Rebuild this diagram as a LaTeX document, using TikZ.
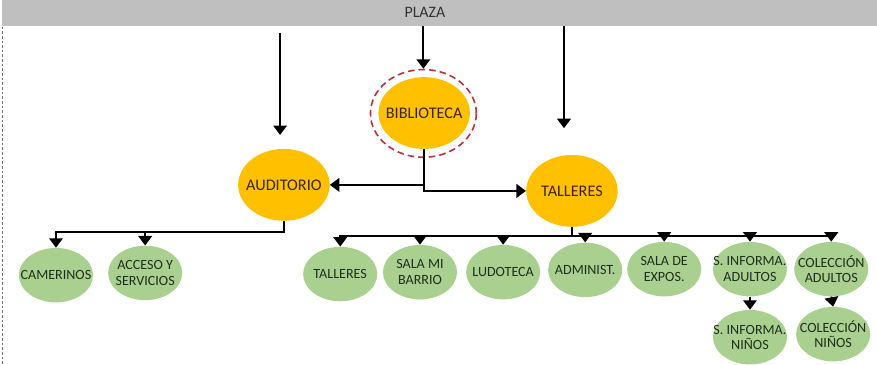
\documentclass[tikz,border=0pt]{standalone}
\usepackage{fontspec}
\setmainfont{Carlito}
\usepackage{xcolor}
\usepackage{tikz}
\usetikzlibrary{positioning,arrows.meta,shapes.geometric,calc}

\definecolor{plazagray}{HTML}{BFBFBF}
\definecolor{areaorange}{HTML}{FFC000}
\definecolor{roomgreen}{HTML}{A9D08E}
\definecolor{ringred}{HTML}{B5343C}
\definecolor{areatext}{HTML}{3E2414}
\definecolor{roomtext}{HTML}{1F2F1F}

\begin{document}
\begin{tikzpicture}[
  x=1cm, y=1cm,
  bar/.style  ={rectangle, fill=plazagray, inner sep=0pt,
                minimum width=23.15cm, minimum height=6.9mm},
  area/.style ={ellipse, fill=areaorange, inner ysep=0pt, inner xsep=-3.5mm,
                minimum width=24.2mm, minimum height=19mm,
                font=\fontsize{12.2}{14}\selectfont, text=areatext},
  room/.style ={ellipse, fill=roomgreen, inner ysep=0pt, inner xsep=-3.5mm,
                minimum width=19.6mm, minimum height=14.4mm, align=center,
                font=\fontsize{10.6}{11.6}\selectfont, text=roomtext},
  ring/.style ={ellipse, draw=ringred, line width=1.2pt,
                dash pattern=on 5pt off 3pt,
                minimum width=28mm, minimum height=23.2mm},
  e/.style    ={-{Triangle[length=2.5mm,width=3.6mm]}, line width=1.4pt, draw=black},
]
\useasboundingbox (0,0) rectangle (23.2,9.63);
% left edge of the sheet
\draw[black!55, line width=0.6pt, dash pattern=on 2pt off 1.5pt] (0.06,0) -- (0.06,9.63);

% ---------------- PLAZA (top bar) ----------------
\node[bar] (bar)   at (11.625,9.285) {};
\node[font=\fontsize{12}{14}\selectfont, text=black!80] (plaza) at (11.24,9.29) {PLAZA};

% ---------------- main areas ----------------
\node[ring] (ring) at (11.20,6.63) {};
\node[area] (bib)  at (11.22,6.64) {BIBLIOTECA};
\node[area] (aud)  at (7.51,4.74)  {AUDITORIO};
\node[area] (tall) at (15.13,4.58) {TALLERES};

% ---------------- rooms ----------------
\node[room] (cam) at (1.48,2.35)  {CAMERINOS};
\node[room] (acc) at (3.84,2.41)  {ACCESO Y\\SERVICIOS};
\node[room] (tg)  at (9.00,2.38)  {TALLERES};
\node[room] (smb) at (11.11,2.43) {SALA MI\\BARRIO};
\node[room] (lud) at (13.31,2.43) {LUDOTECA};
\node[room] (adm) at (15.48,2.49) {ADMINIST.};
\node[room] (sde) at (17.57,2.51) {SALA DE\\EXPOS.};
\node[room] (sia) at (19.84,2.51) {S. INFORMA.\\ADULTOS};
\node[room] (ca)  at (21.99,2.51) {COLECCIÓN\\ADULTOS};
\node[room] (sin) at (19.84,0.71) {S. INFORMA.\\NIÑOS};
\node[room] (cn)  at (22.04,0.79) {COLECCIÓN\\NIÑOS};

% ---------------- from the plaza ----------------
\coordinate (audtop) at (7.41,8.76);
\coordinate (audend) at (7.41,6.06);
\coordinate (tallend) at (14.92,6.24);
\draw[e] (audtop) -- (audend);
\draw[e] (ring.north |- bar.south) -- (ring.north);
\draw[e] (tallend |- bar.south) -- (tallend);

% ---------------- biblioteca to auditorio / talleres ----------------
\draw[e] (bib.south) |- (aud.east);
\draw[e] (bib.south) |- (tall.west);

% ---------------- auditorio rooms ----------------
\coordinate (abus) at ($(aud.south)+(0,-0.28)$);
\foreach \n in {cam,acc}
  \draw[e] (aud.south) -- (abus) -| (\n.north);

% ---------------- talleres rooms ----------------
\coordinate (tbus) at ($(tall.south)+(0,-0.24)$);
\foreach \n in {tg,smb,lud,adm,sde,sia,ca}
  \draw[e] (tall.south) -- (tbus) -| (\n.north);
\draw[e] (sia.south) -- (sin.north);
\draw[e] (ca.south)  -- (cn.north);
\end{tikzpicture}
\end{document}
